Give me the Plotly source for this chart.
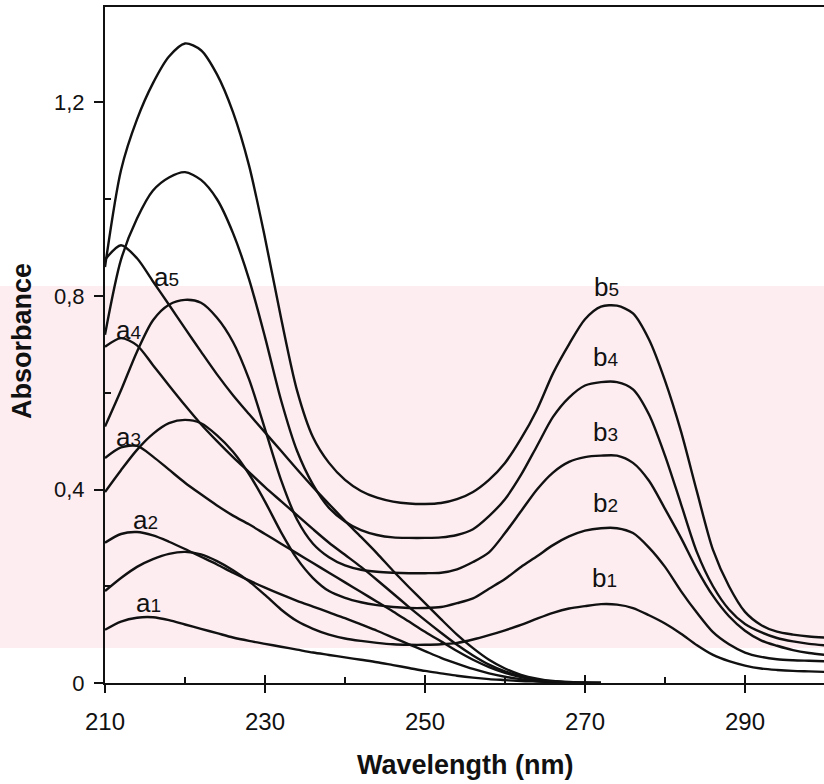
import plotly.graph_objects as go

# ---------------- data ----------------
WL_B = list(range(210, 301, 2))   # wavelengths for b-series (nm)
WL_A = list(range(210, 273, 2))   # wavelengths for a-series (nm)

b5 = [0.86, 1.06, 1.165, 1.24, 1.295, 1.322, 1.308, 1.258, 1.18, 1.07, 0.92, 0.755, 0.605, 0.508, 0.455,
      0.42, 0.397, 0.383, 0.375, 0.371, 0.37, 0.372, 0.38, 0.395, 0.42, 0.455, 0.505, 0.565, 0.64, 0.70,
      0.752, 0.778, 0.78, 0.764, 0.71, 0.625, 0.52, 0.395, 0.275, 0.2, 0.147, 0.12, 0.106, 0.1, 0.096, 0.094]
b4 = [0.72, 0.875, 0.96, 1.018, 1.045, 1.056, 1.04, 1.0, 0.93, 0.835, 0.715, 0.585, 0.48, 0.41, 0.362,
      0.334, 0.316, 0.306, 0.301, 0.3, 0.3, 0.301, 0.306, 0.318, 0.345, 0.38, 0.43, 0.49, 0.55, 0.59,
      0.615, 0.622, 0.622, 0.607, 0.555, 0.47, 0.37, 0.27, 0.2, 0.152, 0.122, 0.105, 0.093, 0.086, 0.081, 0.078]
b3 = [0.53, 0.605, 0.685, 0.75, 0.782, 0.792, 0.786, 0.755, 0.705, 0.628, 0.525, 0.42, 0.338, 0.288, 0.26,
      0.243, 0.234, 0.23, 0.228, 0.227, 0.227, 0.228, 0.235, 0.25, 0.27, 0.31, 0.355, 0.4, 0.435, 0.457,
      0.467, 0.47, 0.47, 0.455, 0.418, 0.36, 0.3, 0.235, 0.18, 0.138, 0.108, 0.088, 0.077, 0.068, 0.062, 0.058]
b2 = [0.395, 0.44, 0.482, 0.515, 0.537, 0.544, 0.537, 0.512, 0.478, 0.432, 0.375, 0.312, 0.257, 0.217, 0.19,
      0.176, 0.167, 0.161, 0.157, 0.155, 0.155, 0.157, 0.165, 0.175, 0.195, 0.215, 0.24, 0.262, 0.285, 0.303,
      0.315, 0.32, 0.32, 0.31, 0.28, 0.24, 0.19, 0.145, 0.105, 0.08, 0.063, 0.054, 0.049, 0.047, 0.046, 0.045]
b1 = [0.19, 0.217, 0.24, 0.256, 0.267, 0.271, 0.266, 0.252, 0.233, 0.21, 0.182, 0.152, 0.128, 0.112, 0.1,
      0.092, 0.087, 0.083, 0.08, 0.079, 0.079, 0.08, 0.083, 0.09, 0.099, 0.109, 0.12, 0.133, 0.145, 0.154,
      0.159, 0.163, 0.162, 0.155, 0.14, 0.123, 0.102, 0.078, 0.058, 0.045, 0.036, 0.03, 0.027, 0.025, 0.024, 0.023]

a5 = [0.875, 0.905, 0.878, 0.83, 0.782, 0.733, 0.685, 0.638, 0.595, 0.556, 0.518, 0.48, 0.442, 0.405, 0.37,
      0.335, 0.302, 0.268, 0.232, 0.198, 0.165, 0.132, 0.1, 0.072, 0.048, 0.03, 0.017, 0.009, 0.004, 0.002, 0.001, 0.0]
a4 = [0.695, 0.713, 0.698, 0.657, 0.615, 0.574, 0.535, 0.5, 0.467, 0.436, 0.405, 0.376, 0.347, 0.318, 0.29,
      0.265, 0.24, 0.213, 0.185, 0.157, 0.13, 0.104, 0.079, 0.057, 0.038, 0.024, 0.014, 0.007, 0.003, 0.001, 0.0, 0.0]
a3 = [0.465, 0.487, 0.49, 0.468, 0.441, 0.414, 0.39, 0.367, 0.346, 0.328, 0.308, 0.288, 0.268, 0.248, 0.228,
      0.208, 0.188, 0.168, 0.148, 0.127, 0.106, 0.086, 0.066, 0.048, 0.033, 0.021, 0.012, 0.006, 0.003, 0.001, 0.0, 0.0]
a2 = [0.29, 0.308, 0.312, 0.305, 0.292, 0.277, 0.261, 0.245, 0.228, 0.212, 0.197, 0.183, 0.17, 0.158, 0.146,
      0.134, 0.121, 0.108, 0.094, 0.08, 0.066, 0.052, 0.04, 0.029, 0.02, 0.013, 0.008, 0.004, 0.002, 0.001, 0.0, 0.0]
a1 = [0.11, 0.127, 0.135, 0.136, 0.13, 0.121, 0.112, 0.103, 0.094, 0.087, 0.081, 0.075, 0.069, 0.063, 0.058,
      0.053, 0.048, 0.043, 0.037, 0.031, 0.025, 0.02, 0.015, 0.011, 0.008, 0.006, 0.004, 0.003, 0.002, 0.001, 0.0, 0.0]

series_b = {"b1": b1, "b2": b2, "b3": b3, "b4": b4, "b5": b5}
series_a = {"a1": a1, "a2": a2, "a3": a3, "a4": a4, "a5": a5}

# label positions (wavelength, absorbance)
label_names = ["a1", "a2", "a3", "a4", "a5", "b1", "b2", "b3", "b4", "b5"]
label_x = [215.4, 215.0, 212.9, 212.9, 217.7, 272.4, 272.6, 272.6, 272.6, 272.7]
label_y = [0.165, 0.337, 0.509, 0.730, 0.839, 0.217, 0.372, 0.519, 0.674, 0.819]

y_tickvals = [0, 0.4, 0.8, 1.2]
y_ticktext = ["0", "0,4", "0,8", "1,2"]
x_tickvals = [210, 230, 250, 270, 290]

FONT = "Liberation Sans, Arial, sans-serif"
INK = "#111111"

fig = go.Figure()
for name, vals in list(series_a.items()) + list(series_b.items()):
    wl = WL_A if name.startswith("a") else WL_B
    fig.add_trace(go.Scatter(x=wl, y=vals, mode="lines", name=name,
                             line=dict(color=INK, width=2.4, shape="spline", smoothing=0.8),
                             showlegend=False, hoverinfo="skip"))

# invisible trace on secondary x axis for the inward halves of major ticks
fig.add_trace(go.Scatter(x=[210], y=[0], xaxis="x2", mode="markers",
                         marker=dict(opacity=0), showlegend=False, hoverinfo="skip"))

for n, lx, ly in zip(label_names, label_x, label_y):
    fig.add_annotation(x=lx, y=ly, xref="x", yref="y", showarrow=False,
                       text=f"{n[0]}<span style='font-size:19px'>{n[1]}</span>",
                       font=dict(family=FONT, size=26, color=INK),
                       xanchor="center", yanchor="middle")

# axis titles
fig.add_annotation(x=(465 - 105) / 719, y=(683 - 765) / 676, xref="paper", yref="paper",
                   text="<b>Wavelength (nm)</b>", showarrow=False,
                   font=dict(family=FONT, size=27, color=INK), xanchor="center", yanchor="middle")
fig.add_annotation(x=(22 - 105) / 719, y=(683 - 341) / 676, xref="paper", yref="paper",
                   text="<b>Absorbance</b>", showarrow=False, textangle=-90,
                   font=dict(family=FONT, size=27, color=INK), xanchor="center", yanchor="middle")

# faint pink watermark band from the scanned page
fig.add_shape(type="rect", xref="paper", yref="paper",
              x0=-105 / 719, x1=1.0, y0=(683 - 648) / 676, y1=(683 - 286) / 676,
              fillcolor="#fdedf1", line=dict(width=0), layer="below")

fig.update_layout(
    width=824, height=784,
    margin=dict(l=105, r=0, t=7, b=101, autoexpand=False),
    paper_bgcolor="white", plot_bgcolor="rgba(0,0,0,0)",
    font=dict(family=FONT, color=INK),
    xaxis=dict(range=[210, 299.875], showgrid=False, zeroline=False,
               showline=True, linecolor=INK, linewidth=2, mirror=True,
               tickmode="array", tickvals=x_tickvals,
               ticks="outside", ticklen=8, tickwidth=2, tickcolor=INK,
               ticklabelstandoff=8,
               tickfont=dict(family=FONT, size=24, color=INK),
               minor=dict(tickmode="array", tickvals=[220, 240, 260, 280, 300],
                          ticks="inside", ticklen=6, tickwidth=2, tickcolor=INK)),
    xaxis2=dict(range=[210, 299.875], overlaying="x", side="bottom", anchor="y",
                showgrid=False, zeroline=False, showline=False, showticklabels=False,
                tickmode="array", tickvals=x_tickvals,
                ticks="inside", ticklen=8, tickwidth=2, tickcolor=INK),
    yaxis=dict(range=[0, 1.3974], showgrid=False, zeroline=False,
               showline=True, linecolor=INK, linewidth=2,
               tickmode="array", tickvals=y_tickvals, ticktext=y_ticktext,
               ticks="outside", ticklen=9, tickwidth=2, tickcolor=INK,
               ticklabelstandoff=5,
               tickfont=dict(family=FONT, size=22, color=INK),
               minor=dict(tickmode="array", tickvals=[0.2, 0.6, 1.0],
                          ticks="inside", ticklen=6, tickwidth=2, tickcolor=INK)),
)

fig.write_html("out.html")
